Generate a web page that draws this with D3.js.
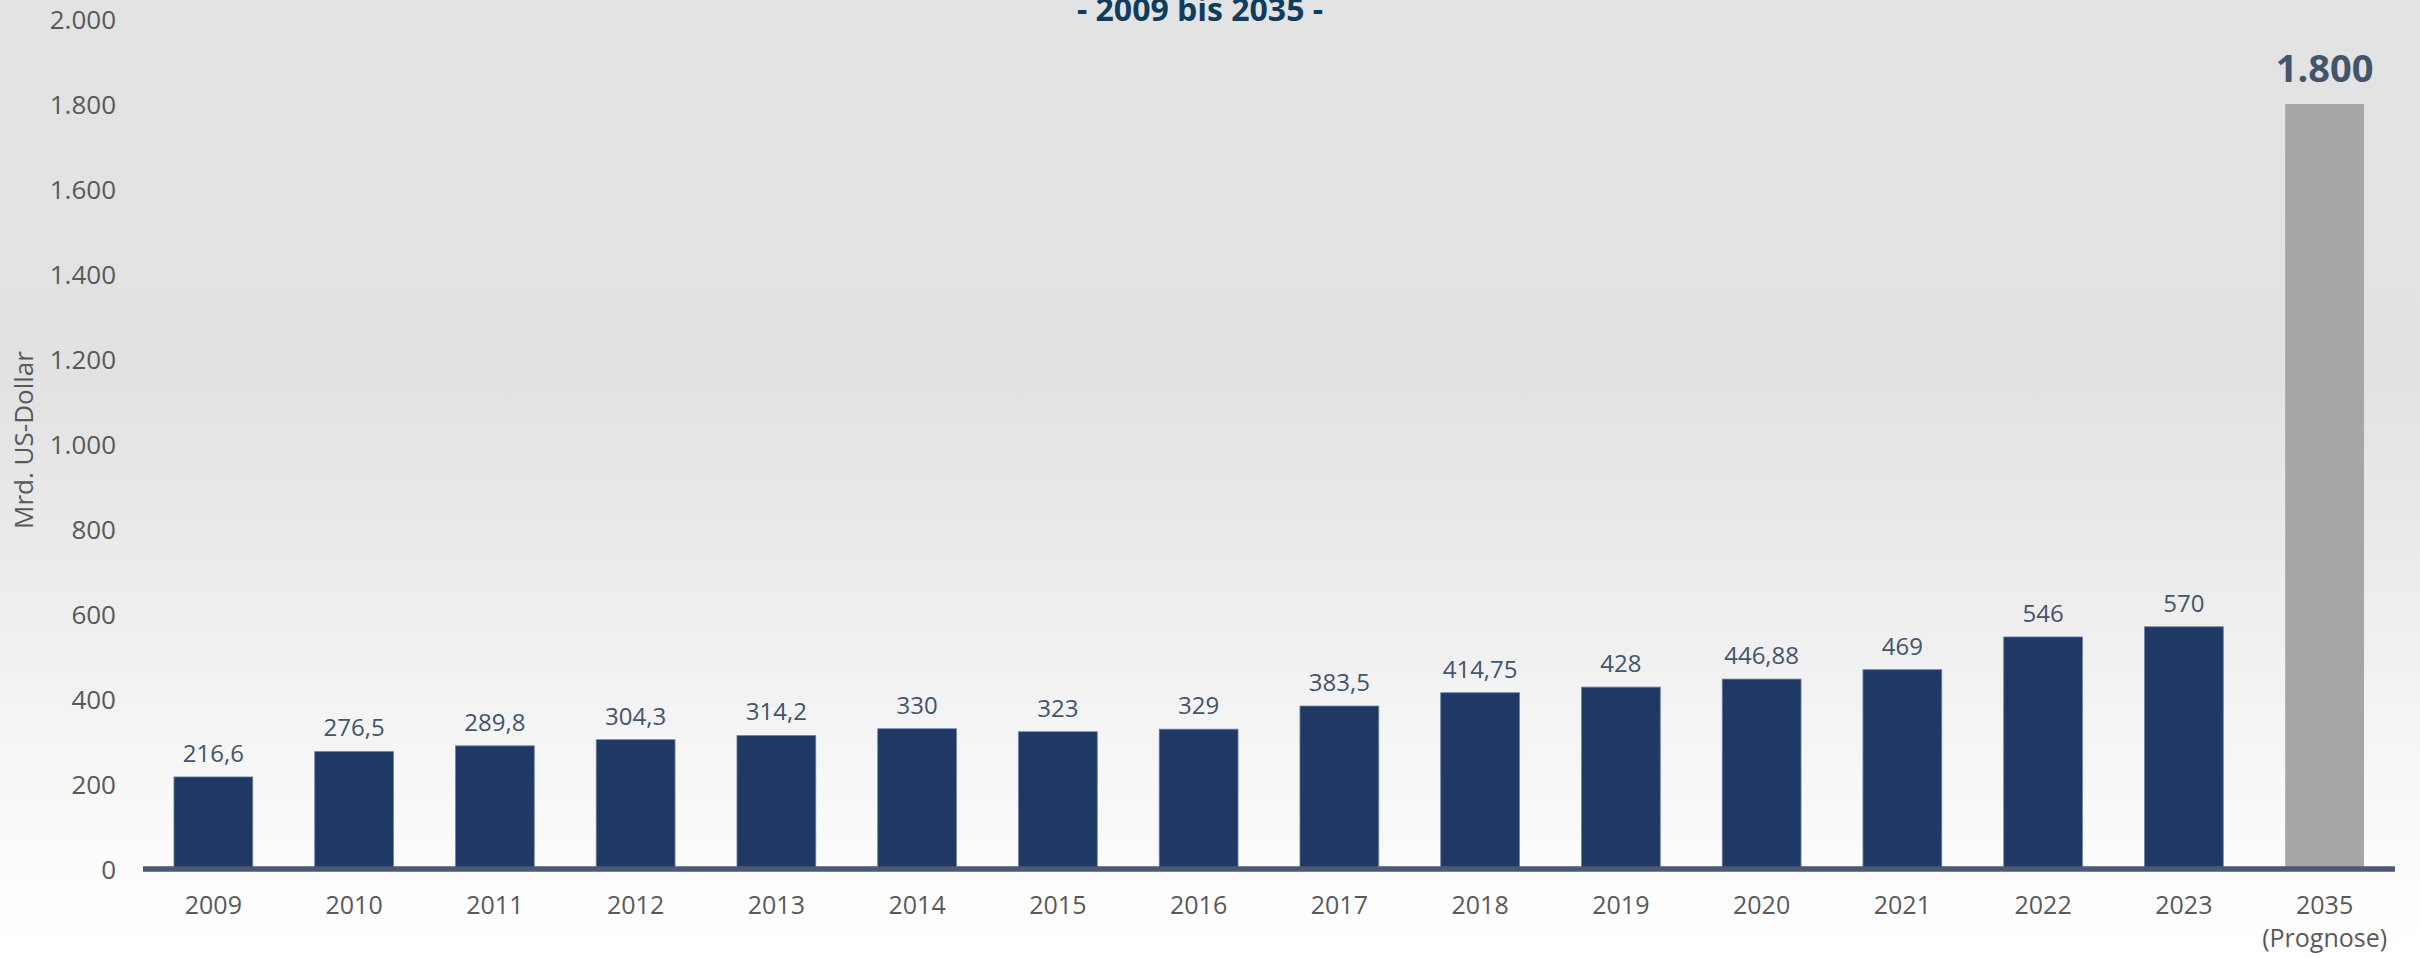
<!DOCTYPE html>
<html>
<head>
<meta charset="utf-8">
<script src="https://cdn.jsdelivr.net/npm/d3@7"></script>
<style>
  body { margin: 0; background: #fff; }
  svg text { font-family: "Open Sans", sans-serif; }
</style>
</head>
<body>
<div id="chart"></div>
<script>
// chart data
var years = ["2009", "2010", "2011", "2012", "2013", "2014", "2015", "2016",
             "2017", "2018", "2019", "2020", "2021", "2022", "2023", "2035"];
var values = [216.6, 276.5, 289.8, 304.3, 314.2, 330, 323, 329,
              383.5, 414.75, 428, 446.88, 469, 546, 570, 1800];
var forecast = [false, false, false, false, false, false, false, false,
                false, false, false, false, false, false, false, true];
var yTicks = [0, 200, 400, 600, 800, 1000, 1200, 1400, 1600, 1800, 2000];
var subtitle = "- 2009 bis 2035 -";
var yLabel = "Mrd. US-Dollar";

function init() {
    var W = 2420, H = 958;
    var de = d3.formatLocale({ decimal: ",", thousands: ".", grouping: [3], currency: ["", " €"] });
    var fmt = de.format(",");

    var svg = d3.select("#chart").append("svg")
                .attr("width", W)
                .attr("height", H);

    // background gradient: grey at the top fading to white
    var grad = svg.append("defs").append("linearGradient")
                  .attr("id", "bg").attr("x1", 0).attr("y1", 0).attr("x2", 0).attr("y2", 1);
    grad.append("stop").attr("offset", "0").attr("stop-color", "#e3e3e3");
    grad.append("stop").attr("offset", "0.40").attr("stop-color", "#e2e2e2");
    grad.append("stop").attr("offset", "0.93").attr("stop-color", "#fdfdfd");
    grad.append("stop").attr("offset", "1").attr("stop-color", "#ffffff");
    svg.append("rect").attr("width", W).attr("height", H).attr("fill", "url(#bg)");

    var x = d3.scaleBand().domain(years).range([143, 2395]).paddingInner(0.44).paddingOuter(0.22);
    var y = d3.scaleLinear().domain([0, 1800]).range([869, 104]);

    // y axis labels (no line)
    var yAxis = d3.axisLeft(y).tickValues(yTicks).tickSize(0).tickPadding(0).tickFormat(fmt);
    var gy = svg.append("g").attr("transform", "translate(116,0)").call(yAxis);
    gy.select(".domain").remove();
    gy.selectAll("text")
      .attr("fill", "#595959")
      .style("font-size", "26px")
      .attr("dy", "0.35em");

    // axis title
    svg.append("text")
       .attr("transform", "translate(33,440) rotate(-90)")
       .attr("text-anchor", "middle")
       .attr("fill", "#595959")
       .style("font-size", "26px")
       .text(yLabel);

    // bars
    svg.selectAll(".bar")
       .data(values)
       .enter().append("rect")
       .attr("class", "bar")
       .attr("x", function(d, i) { return x(years[i]); })
       .attr("width", x.bandwidth())
       .attr("y", function(d) { return y(d); })
       .attr("height", function(d) { return y(0) - y(d); })
       .attr("fill", function(d, i) { return forecast[i] ? "#a6a6a6" : "#203864"; })
       .attr("stroke", function(d, i) { return forecast[i] ? "none" : "#6f83a6"; })
       .attr("stroke-width", 0.8);

    // value labels
    svg.selectAll(".val")
       .data(values)
       .enter().append("text")
       .attr("class", "val")
       .attr("x", function(d, i) { return x(years[i]) + x.bandwidth() / 2; })
       .attr("y", function(d, i) { return y(d) - (forecast[i] ? 22 : 15); })
       .attr("text-anchor", "middle")
       .attr("fill", "#44546a")
       .style("font-size", function(d, i) { return forecast[i] ? "38px" : "24px"; })
       .style("font-weight", function(d, i) { return forecast[i] ? "bold" : "normal"; })
       .text(function(d) { return fmt(d); });

    // x axis base line
    svg.append("line")
       .attr("x1", 143).attr("x2", 2395)
       .attr("y1", y(0)).attr("y2", y(0))
       .attr("stroke", "#4b5a74")
       .attr("stroke-width", 5.5);

    // x labels
    svg.selectAll(".xl")
       .data(years)
       .enter().append("text")
       .attr("class", "xl")
       .attr("x", function(d) { return x(d) + x.bandwidth() / 2; })
       .attr("y", 914)
       .attr("text-anchor", "middle")
       .attr("fill", "#595959")
       .style("font-size", "25px")
       .text(function(d) { return d; });
    svg.append("text")
       .attr("x", x("2035") + x.bandwidth() / 2)
       .attr("y", 947)
       .attr("text-anchor", "middle")
       .attr("fill", "#595959")
       .style("font-size", "25px")
       .text("(Prognose)");

    // subtitle (cut at the top edge, as in the source)
    svg.append("text")
       .attr("x", 1200)
       .attr("y", 21)
       .attr("text-anchor", "middle")
       .attr("fill", "#0e3d5e")
       .style("font-size", "32px")
       .style("font-weight", "bold")
       .text(subtitle);
}

window.onload = init;
</script>
</body>
</html>
